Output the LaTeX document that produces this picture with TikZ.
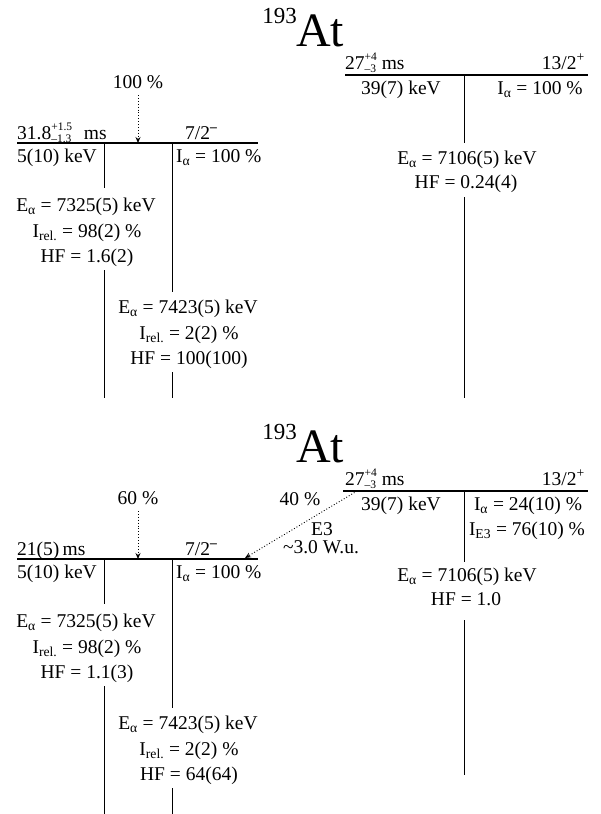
\documentclass[tikz,border=0pt]{standalone}
\usepackage{fontspec}
\setmainfont{Liberation Serif}
\usetikzlibrary{arrows.meta}
\newcommand\ud[2]{\sbox0{\raisebox{9pt}{\fontsize{11.5}{12}\selectfont #1}}\sbox2{\raisebox{-3pt}{\fontsize{11.5}{12}\selectfont #2}}\ifdim\wd0>\wd2 \rlap{\usebox2}\usebox0\else\rlap{\usebox0}\usebox2\fi}
\newcommand\Ea{E\textsubscript{α}}
\newcommand\Ia{I\textsubscript{α}}
\newcommand\Irel{I\textsubscript{rel.}}
\begin{document}
\begin{tikzpicture}[x=1pt,y=-1pt,
  txt/.style={inner sep=0pt,font=\fontsize{19.5}{23}\selectfont},
  lvl/.style={line width=1.3pt},
  vl/.style={line width=1pt},
  feed/.style={dotted,line width=0.9pt,-{Stealth[length=6pt,width=5pt]}}]
\useasboundingbox (0,0) rectangle (600,814);

%================ TOP =================
\node[inner sep=0pt,anchor=base east,font=\fontsize{23}{26}\selectfont] (tA) at (297,23) {193};
\node[inner sep=0pt,anchor=base west,font=\fontsize{48}{50}\selectfont] (tB) at (296,46) {At};

% ground state level (left)
\coordinate (tL1a) at (17,143); \coordinate (tL1b) at (258,143);
\draw[lvl] (tL1a) -- (tL1b);
\node[txt,anchor=base west] (tL1t) at (17,139) {31.8\ud{+1.5}{–1.3}\hspace{0.6em}ms};
\node[txt,anchor=base west] (tL1s) at (185,139) {7/2\textsuperscript{\textbf{–}}};
\node[txt,anchor=base west] (tL1e) at (17,162) {5(10) keV};
\node[txt,anchor=base west] (tL1i) at (176,162) {\Ia\ = 100 \%};

% feeding
\node[txt,anchor=base] (tP) at (138,88) {100 \%};
\coordinate (tPe) at (138,143);
\draw[feed] (138,95) -- (tPe);

% alpha lines left
\coordinate (tV1a) at (104,143); \coordinate (tV1b) at (104,188);
\coordinate (tV1c) at (104,270); \coordinate (tV1d) at (104,398);
\draw[vl] (tV1a) -- (tV1b); \draw[vl] (tV1c) -- (tV1d);
\coordinate (tV2a) at (172,143); \coordinate (tV2b) at (172,292);
\coordinate (tV2c) at (172,372); \coordinate (tV2d) at (172,398);
\draw[vl] (tV2a) -- (tV2b); \draw[vl] (tV2c) -- (tV2d);

\node[txt,anchor=base] (tA1) at (86,211) {\Ea\ = 7325(5) keV};
\node[txt,anchor=base] (tA2) at (87,237) {\Irel\ = 98(2) \%};
\node[txt,anchor=base] (tA3) at (87,262) {HF = 1.6(2)};
\node[txt,anchor=base] (tB1) at (188,313) {\Ea\ = 7423(5) keV};
\node[txt,anchor=base] (tB2) at (189,339) {\Irel\ = 2(2) \%};
\node[txt,anchor=base] (tB3) at (189,364) {HF = 100(100)};

% isomer level (right)
\coordinate (tL2a) at (345,75); \coordinate (tL2b) at (588,75);
\draw[lvl] (tL2a) -- (tL2b);
\node[txt,anchor=base west] (tL2t) at (345,69) {27\ud{+4}{–3} ms};
\node[txt,anchor=base east] (tL2s) at (585,69) {13/2\textsuperscript{+}};
\node[txt,anchor=base] (tL2e) at (401,94) {39(7) keV};
\node[txt,anchor=base] (tL2i) at (540,94) {\Ia\ = 100 \%};

\coordinate (tV3a) at (464,75); \coordinate (tV3b) at (464,143);
\coordinate (tV3c) at (464,197); \coordinate (tV3d) at (464,398);
\draw[vl] (tV3a) -- (tV3b); \draw[vl] (tV3c) -- (tV3d);
\node[txt,anchor=base] (tC1) at (467,164) {\Ea\ = 7106(5) keV};
\node[txt,anchor=base] (tC2) at (466,188) {HF = 0.24(4)};

%================ BOTTOM =================
\begin{scope}[shift={(0,416)}]
\node[inner sep=0pt,anchor=base east,font=\fontsize{23}{26}\selectfont] (bA) at (297,23) {193};
\node[inner sep=0pt,anchor=base west,font=\fontsize{48}{50}\selectfont] (bB) at (296,46) {At};

\coordinate (bL1a) at (17,143); \coordinate (bL1b) at (258,143);
\draw[lvl] (bL1a) -- (bL1b);
\node[txt,anchor=base west] (bL1t) at (17,139) {21(5)\,ms};
\node[txt,anchor=base west] (bL1s) at (185,139) {7/2\textsuperscript{\textbf{–}}};
\node[txt,anchor=base west] (bL1e) at (17,162) {5(10) keV};
\node[txt,anchor=base west] (bL1i) at (176,162) {\Ia\ = 100 \%};

\node[txt,anchor=base] (bP) at (138,88) {60 \%};
\coordinate (bPe) at (138,143);
\draw[feed] (138,95) -- (bPe);

\node[txt,anchor=base] (bQ) at (300,89) {40 \%};
\coordinate (bQs) at (357,75); \coordinate (bQe) at (245,142);
\draw[feed] (bQs) -- (bQe);
\node[txt,anchor=base] (bE3) at (322,119) {E3};
\node[txt,anchor=base] (bWu) at (321,137) {\textasciitilde3.0 W.u.};

\coordinate (bV1a) at (104,143); \coordinate (bV1b) at (104,188);
\coordinate (bV1c) at (104,270); \coordinate (bV1d) at (104,398);
\draw[vl] (bV1a) -- (bV1b); \draw[vl] (bV1c) -- (bV1d);
\coordinate (bV2a) at (172,143); \coordinate (bV2b) at (172,292);
\coordinate (bV2c) at (172,372); \coordinate (bV2d) at (172,398);
\draw[vl] (bV2a) -- (bV2b); \draw[vl] (bV2c) -- (bV2d);

\node[txt,anchor=base] (bA1) at (86,211) {\Ea\ = 7325(5) keV};
\node[txt,anchor=base] (bA2) at (87,237) {\Irel\ = 98(2) \%};
\node[txt,anchor=base] (bA3) at (87,262) {HF = 1.1(3)};
\node[txt,anchor=base] (bB1) at (188,313) {\Ea\ = 7423(5) keV};
\node[txt,anchor=base] (bB2) at (189,339) {\Irel\ = 2(2) \%};
\node[txt,anchor=base] (bB3) at (189,364) {HF = 64(64)};

\coordinate (bL2a) at (343,75); \coordinate (bL2b) at (588,75);
\draw[lvl] (bL2a) -- (bL2b);
\node[txt,anchor=base west] (bL2t) at (345,69) {27\ud{+4}{–3} ms};
\node[txt,anchor=base east] (bL2s) at (585,69) {13/2\textsuperscript{+}};
\node[txt,anchor=base] (bL2e) at (401,94) {39(7) keV};
\node[txt,anchor=base] (bL2i) at (528,94) {\Ia\ = 24(10) \%};
\node[txt,anchor=base] (bL2j) at (527,119) {I\textsubscript{E3} = 76(10) \%};

\coordinate (bV3a) at (464,75); \coordinate (bV3b) at (464,146);
\coordinate (bV3c) at (464,204); \coordinate (bV3d) at (464,359);
\draw[vl] (bV3a) -- (bV3b); \draw[vl] (bV3c) -- (bV3d);
\node[txt,anchor=base] (bC1) at (467,165) {\Ea\ = 7106(5) keV};
\node[txt,anchor=base] (bC2) at (466,189) {HF = 1.0};
\end{scope}
\end{tikzpicture}
\end{document}
